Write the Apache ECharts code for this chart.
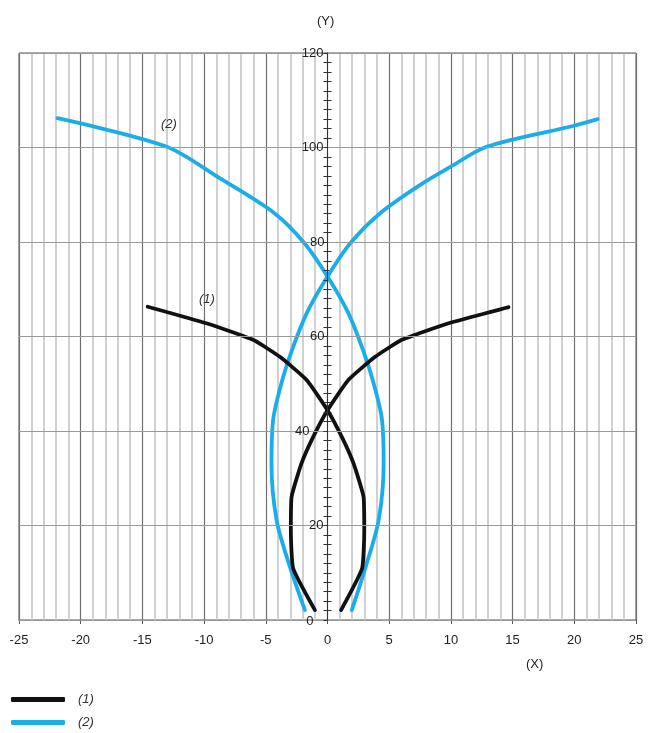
<!DOCTYPE html>
<html>
<head>
<meta charset="utf-8">
<script src="https://cdn.jsdelivr.net/npm/echarts@6/dist/echarts.min.js"></script>
<style>html,body{margin:0;padding:0;background:#fff}#c{width:651px;height:733px}</style>
</head>
<body>
<div id="c"></div>
<script>
// ---- data ----
const seriesNames = ['(1)', '(2)'];
const xTickLabels = [-25, -20, -15, -10, -5, 0, 5, 10, 15, 20, 25];
const yTickLabels = [0, 20, 40, 60, 80, 100, 120];
// curve (1), black: two branches
const curve1a = [[-1.02,2.1],[-2.78,10.9],[-2.97,19.0],[-2.91,26.1],[-2.1,33.2],[-1.15,38.8],[0,44.4],[1.69,50.8],[3.86,55.7],[6.03,59.3],[9.82,62.8],[14.67,66.2]];
const curve1b = [[1.1,2.1],[2.8,10.9],[2.98,19.0],[2.92,26.1],[2.1,33.2],[1.15,38.8],[0,44.4],[-1.69,50.8],[-3.86,55.7],[-6.03,59.3],[-9.82,62.8],[-14.57,66.3]];
// curve (2), blue: two branches
const curve2a = [[-1.83,2.1],[-3.05,11.3],[-4.13,21.2],[-4.54,33.2],[-4.41,42.3],[-3.9,48.5],[-3.1,55.5],[-1.69,64.9],[0,72.7],[1.83,79.7],[4.27,86.1],[7.52,92.1],[9.96,95.9],[12.94,100.2],[19.98,104.6],[21.89,106.0]];
const curve2b = [[1.97,2.1],[3.1,11.3],[4.15,21.2],[4.55,33.2],[4.42,42.3],[3.9,48.5],[3.1,55.5],[1.7,64.9],[0,72.7],[-1.85,79.7],[-4.3,86.1],[-8.74,93.5],[-13.07,100.2],[-21.89,106.2]];

const BLACK = '#111111';
const BLUE = '#1badea';
const FONT = 'Liberation Sans, Arial, sans-serif';

const GRID_L = 19, GRID_R = 15, CANVAS_W = 651;
const plotW = CANVAS_W - GRID_L - GRID_R;
const zeroShift = plotW / 2; // x = 0 sits in the middle of the -25..25 range

const chart = echarts.init(document.getElementById('c'), null, {renderer: 'canvas'});

function lineSeries(name, data, color, smooth) {
  return {
    name: name, type: 'line', data: data, showSymbol: false, symbol: 'none',
    smooth: smooth, color: color,
    lineStyle: {color: color, width: 3.8, cap: 'round', join: 'round'},
    itemStyle: {color: color},
    emphasis: {disabled: true}, silent: true, animation: false
  };
}

const T = 'rgba(0,0,0,0)';
const ySplitColors = ['#9a9a9a', T, T, T, T, T, T, T, T, T];

function yLabel(v) {
  if (yTickLabels.indexOf(v) < 0) return '';
  if (v === 0) return '{z|0}';
  if (v === 40) return '{f|40}';
  if (v === 80 || v === 60) return '{m|' + v + '}';
  return String(v);
}

const option = {
  animation: false,
  grid: {left: GRID_L, right: GRID_R, top: 53, bottom: 113, show: true, borderColor: '#555', borderWidth: 1,
         backgroundColor: 'transparent', containLabel: false, outerBoundsMode: 'none'},
  xAxis: {
    type: 'value', min: -25, max: 25, interval: 5,
    axisLine: {show: true, onZero: false, lineStyle: {color: '#555', width: 1}},
    axisTick: {show: true, length: 4, lineStyle: {color: '#555'}},
    axisLabel: {
      margin: 14, fontSize: 13, color: '#222', fontFamily: FONT,
      formatter: v => (xTickLabels.indexOf(v) >= 0 ? String(v) : '')
    },
    splitLine: {show: true, lineStyle: {color: '#707070', width: 1.2}},
    minorTick: {show: false, splitNumber: 5},
    minorSplitLine: {show: true, lineStyle: {color: '#c6c6c6', width: 1.6}}
  },
  yAxis: [
    {
      type: 'value', min: 0, max: 120, interval: 2, position: 'left', offset: -zeroShift,
      axisLine: {show: true, onZero: false, lineStyle: {color: '#333', width: 1}},
      axisTick: {show: true, length: 4, lineStyle: {color: '#333'}},
      axisLabel: {
        margin: 4, fontSize: 13, color: '#222', fontFamily: FONT,
        formatter: yLabel,
        rich: {
          z: {fontSize: 13, fontFamily: FONT, color: '#222', padding: [3, 10, 0, 0]},
          f: {fontSize: 13, fontFamily: FONT, color: '#222', padding: [0, 14, 0, 0]},
          m: {fontSize: 13, fontFamily: FONT, color: '#222', padding: [0, -1, 0, 0]}
        }
      },
      splitLine: {show: true, lineStyle: {color: ySplitColors, width: 1}},
      z: 10
    },
    {
      type: 'value', min: 0, max: 120, interval: 2, position: 'right', offset: -zeroShift,
      axisLine: {show: false, onZero: false},
      axisTick: {show: true, length: 4, lineStyle: {color: '#333'}},
      axisLabel: {show: false},
      splitLine: {show: false}
    }
  ],
  legend: {
    data: seriesNames, orient: 'vertical', left: 11, top: 693, itemGap: 10, padding: 0,
    icon: 'roundRect', itemWidth: 54, itemHeight: 5,
    textStyle: {fontSize: 13, fontStyle: 'italic', color: '#333', fontFamily: FONT, padding: [0, 0, 0, 8]},
    selectedMode: false
  },
  graphic: [
    {type: 'text', left: 317, top: 15, z: 100, style: {text: '(Y)', font: '13px ' + FONT, fill: '#222'}},
    {type: 'text', left: 526, top: 658, z: 100, style: {text: '(X)', font: '13px ' + FONT, fill: '#222'}},
    {type: 'text', left: 199, top: 293, z: 100, style: {text: '(1)', font: 'italic 13px ' + FONT, fill: '#333'}},
    {type: 'text', left: 161, top: 118, z: 100, style: {text: '(2)', font: 'italic 13px ' + FONT, fill: '#333'}}
  ],
  series: [
    lineSeries(seriesNames[1], curve2a, BLUE, 0.3),
    lineSeries(seriesNames[1], curve2b, BLUE, 0.3),
    lineSeries(seriesNames[0], curve1a, BLACK, 0.15),
    lineSeries(seriesNames[0], curve1b, BLACK, 0.15)
  ]
};
chart.setOption(option);
</script>
</body>
</html>
